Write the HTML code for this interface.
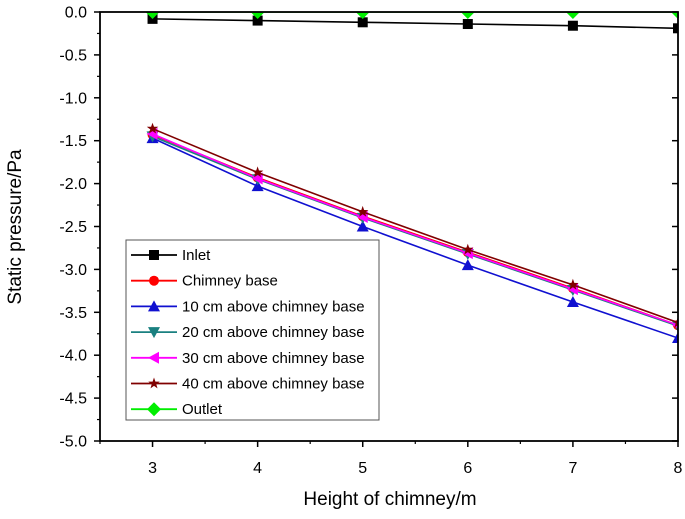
<!DOCTYPE html>
<html><head><meta charset="utf-8"><style>
body{margin:0;background:#fff;}
text{font-family:"Liberation Sans",Arial,sans-serif;}
</style></head><body>
<svg id="c" width="685" height="514" xmlns="http://www.w3.org/2000/svg"></svg>
<script>
const xCats=[3,4,5,6,7,8];
const inlet=[-0.08,-0.10,-0.12,-0.14,-0.16,-0.19];
const chimneyBase=[-1.43,-1.93,-2.38,-2.80,-3.22,-3.65];
const cm10=[-1.47,-2.03,-2.50,-2.95,-3.38,-3.80];
const cm20=[-1.45,-1.95,-2.40,-2.82,-3.24,-3.66];
const cm30=[-1.42,-1.94,-2.39,-2.81,-3.23,-3.65];
const cm40=[-1.36,-1.87,-2.33,-2.77,-3.18,-3.62];
const outlet=[0,0,0,0,0,0];
const yTicks=[0,-0.5,-1,-1.5,-2,-2.5,-3,-3.5,-4,-4.5,-5];
const xTicks=[3,4,5,6,7,8];
const L=100,R=678,T=12,B=441;
const X=v=>L+(v-2.5)/5.5*(R-L);
const Y=v=>T+(-v)/5*(B-T);
const svg=document.getElementById('c');
const NS='http://www.w3.org/2000/svg';
function el(t,a,p){const e=document.createElementNS(NS,t);for(const k in a)e.setAttribute(k,a[k]);(p||svg).appendChild(e);return e;}
const defs=el('defs',{});const cp=el('clipPath',{id:'clip'},defs);el('rect',{x:L,y:T,width:R-L,height:B-T},cp);
function marker(type,x,y,col,g){
  const s=5;let e;
  if(type==='sq')e=el('rect',{x:x-s,y:y-s,width:2*s,height:2*s,fill:col},g);
  else if(type==='ci')e=el('circle',{cx:x,cy:y,r:s,fill:col},g);
  else if(type==='up')e=el('polygon',{points:`${x},${y-s-1} ${x-s-1},${y+s} ${x+s+1},${y+s}`,fill:col},g);
  else if(type==='dn')e=el('polygon',{points:`${x},${y+s+1} ${x-s-1},${y-s} ${x+s+1},${y-s}`,fill:col},g);
  else if(type==='lt')e=el('polygon',{points:`${x-s-1},${y} ${x+s},${y-s-1} ${x+s},${y+s+1}`,fill:col},g);
  else if(type==='st'){let p=[];for(let i=0;i<10;i++){const r=i%2?2.4:6,a=-Math.PI/2+i*Math.PI/5;p.push((x+r*Math.cos(a)).toFixed(1)+','+(y+r*Math.sin(a)).toFixed(1));}e=el('polygon',{points:p.join(' '),fill:col},g);}
  else if(type==='di')e=el('polygon',{points:`${x},${y-s-2} ${x+s+2},${y} ${x},${y+s+2} ${x-s-2},${y}`,fill:col},g);
  
  
}
const series=[
 ['Inlet',inlet,'#000','sq'],['Chimney base',chimneyBase,'#f00','ci'],
 ['10 cm above chimney base',cm10,'#1010d0','up'],['20 cm above chimney base',cm20,'#1a8080','dn'],
 ['30 cm above chimney base',cm30,'#f0f','lt'],['40 cm above chimney base',cm40,'#800000','st'],
 ['Outlet',outlet,'#00ee00','di']];
yTicks.forEach(v=>{const y=Y(v);
 el('line',{x1:L,x2:L-6,y1:y,y2:y,stroke:'#000','stroke-width':1.5});
 el('line',{x1:R,x2:R-6,y1:y,y2:y,stroke:'#000','stroke-width':1.5});
 const t=el('text',{x:87,y:y+5.5,'text-anchor':'end','font-size':16});t.textContent=v===0?'0.0':v.toFixed(1);
 });
[-0.25,-0.75,-1.25,-1.75,-2.25,-2.75,-3.25,-3.75,-4.25,-4.75].forEach(v=>{const y=Y(v);el('line',{x1:L,x2:L-3,y1:y,y2:y,stroke:'#000','stroke-width':1.2});});
xTicks.forEach(v=>{const x=X(v);
 el('line',{x1:x,x2:x,y1:B,y2:B+6,stroke:'#000','stroke-width':1.5});
 el('line',{x1:x,x2:x,y1:T,y2:T+6,stroke:'#000','stroke-width':1.5});
 const t=el('text',{x:x,y:473,'text-anchor':'middle','font-size':16});t.textContent=v;
 });
[2.5,3.5,4.5,5.5,6.5,7.5].forEach(v=>{el('line',{x1:X(v),x2:X(v),y1:B,y2:B+3,stroke:'#000','stroke-width':1.2});});
const g=el('g',{'clip-path':'url(#clip)'});

series.forEach(([n,d,c,m])=>{
 const pl=el('polyline',{points:d.map((v,i)=>X(xCats[i])+','+Y(v)).join(' '),fill:'none',stroke:c,'stroke-width':1.6},g);
 
 d.forEach((v,i)=>marker(m,X(xCats[i]),Y(v),c,g));
});
const fr=el('rect',{x:L,y:T,width:R-L,height:B-T,fill:'none',stroke:'#000','stroke-width':1.8});

const lg=el('g',{});
el('rect',{x:126,y:240,width:253,height:180,fill:'#fff',stroke:'#555','stroke-width':1},lg);
series.forEach(([n,d,c,m],i)=>{const y=255+i*25.7;
 const e=el('g',{},lg);
 el('line',{x1:131,x2:177,y1:y,y2:y,stroke:c,'stroke-width':1.8},e);
 marker(m,154,y,c,e);
 const t=el('text',{x:182,y:y+5,'font-size':15},e);t.textContent=n;});
const xt=el('text',{x:390,y:505,'text-anchor':'middle','font-size':19});xt.textContent='Height of chimney/m';

const yt=el('text',{x:0,y:0,'text-anchor':'middle','font-size':19,transform:'translate(21,227) rotate(-90)'});yt.textContent='Static pressure/Pa';

</script>
</body></html>
